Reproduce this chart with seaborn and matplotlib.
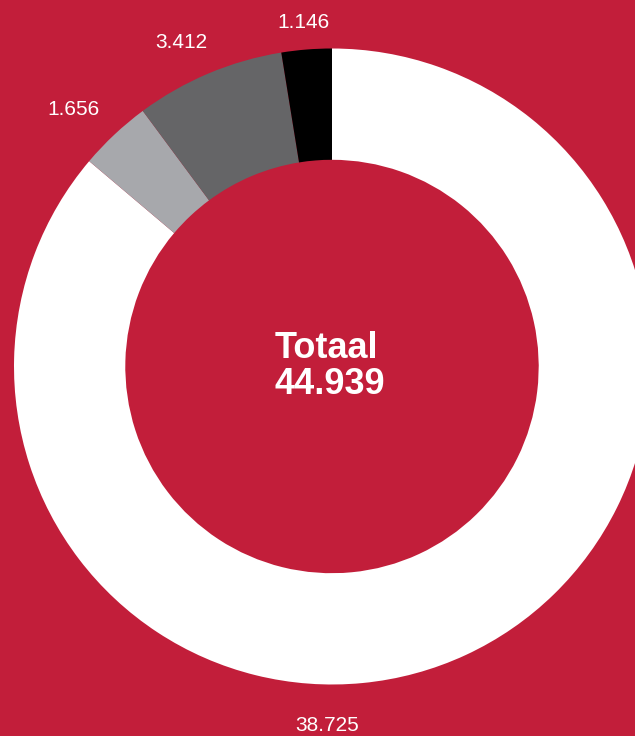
"""
Donut chart: Totaal 44.939, split into four groups.
"""
import matplotlib
matplotlib.use('Agg')
import matplotlib.pyplot as plt
import numpy as np
import seaborn as sns

# Data (clockwise from 12 o'clock)
GROUPS = ['A', 'B', 'C', 'D']
VALUES = [38725, 1656, 3412, 1146]
LABELS = ['38.725', '1.656', '3.412', '1.146']
TOTAL_LABEL = 'Totaal\n44.939'

BG = '#C21E3A'
COLORS = ['#FFFFFF', '#A7A8AC', '#656567', '#000000']

# how far out each small label sits (fraction of radius) and a small angle nudge
LABEL_DIST = [None, 1.148, 1.124, 1.085]
LABEL_NUDGE = [0, 2.0, 2.0, 0.2]

sns.set_style('white')
plt.rcParams['font.family'] = ['Liberation Sans', 'DejaVu Sans']

FIG = plt.figure(figsize=(6.35, 7.36), dpi=100, facecolor=BG)
AX = FIG.add_axes([0, 0, 1, 1])
AX.set_facecolor(BG)

# donut in pixel units, centre at (0, 0)
CX, CY, R = 332, 366.5, 318

WEDGES, TEXTS = AX.pie(
    VALUES, colors=COLORS, radius=R, startangle=90, counterclock=False,
    labels=LABELS, labeldistance=1.1,
    wedgeprops=dict(width=R * 0.35, edgecolor='none'),
    textprops=dict(color='white', fontsize=15, ha='center', va='center'))

# pie resets the limits, so set them afterwards
AX.set_xlim(-CX, 635 - CX)
AX.set_ylim(-(736 - CY), CY)
AX.set_aspect('equal')
AX.axis('off')

# small slices: label just outside the ring
for w, t, d, n in zip(WEDGES[1:], TEXTS[1:], LABEL_DIST[1:], LABEL_NUDGE[1:]):
    ang = np.deg2rad((w.theta1 + w.theta2) / 2 + n)
    t.set_position((R * d * np.cos(ang), R * d * np.sin(ang)))

# the big white slice gets its label at the bottom
TEXTS[0].set_position((-R * 0.014, -R * 1.13))

AX.text(-2.5, 0, TOTAL_LABEL, color='white', fontsize=26, fontweight='bold',
        ha='center', va='center', multialignment='left', linespacing=1.02)

FIG.savefig('out.png', dpi=100, facecolor=BG)
